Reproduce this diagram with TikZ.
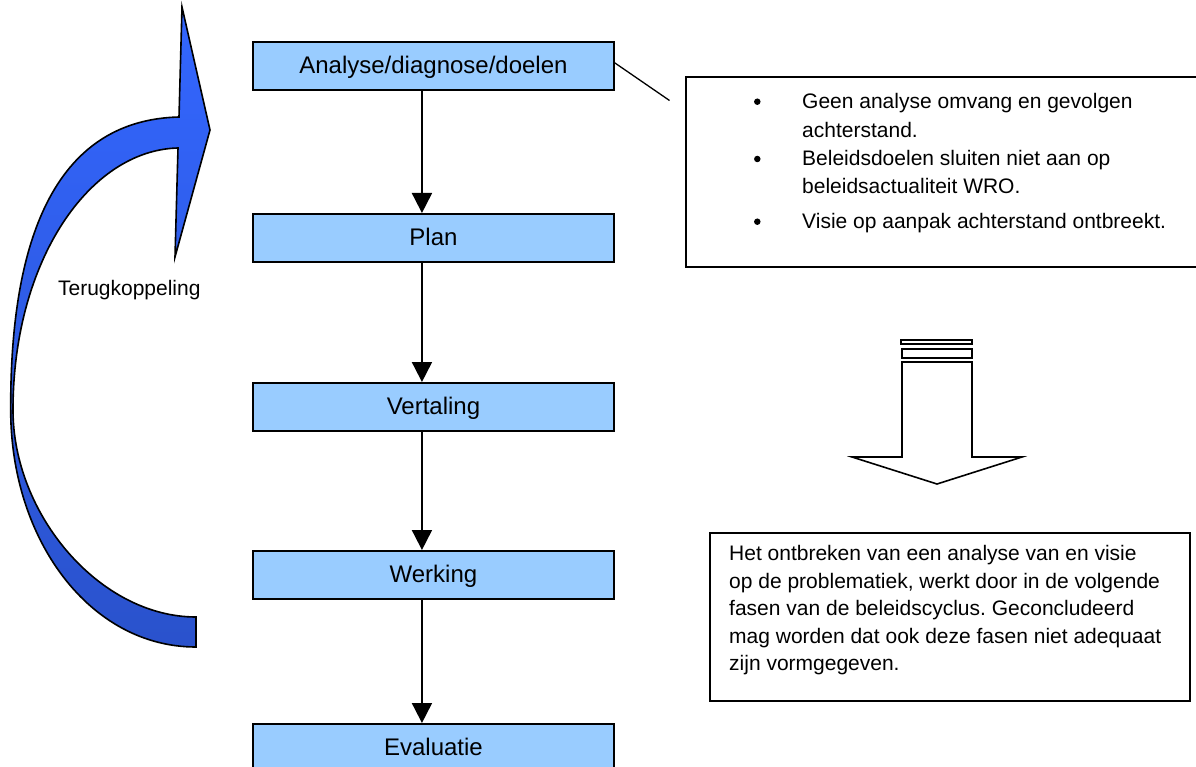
\documentclass[tikz,border=0pt]{standalone}
\usepackage{fontspec}
\setmainfont{Liberation Sans}
\usetikzlibrary{arrows.meta}
\definecolor{stagefill}{HTML}{99CCFF}
\definecolor{loopblue}{HTML}{3366FF}
\definecolor{loopdark}{HTML}{2A52CC}
\frenchspacing

\begin{document}
\begin{tikzpicture}[x=1pt,y=-1pt,
  stage/.style={draw, line width=1.9pt, fill=stagefill, minimum width=361pt,
    minimum height=48pt, inner sep=0pt, anchor=north west,
    text depth=2pt, font=\fontsize{24}{28}\selectfont},
  flow/.style={line width=1.9pt, -{Triangle[width=20pt,length=20pt]}},
  panel/.style={draw, line width=1.8pt, inner sep=0pt, anchor=north west},
  txt/.style={inner sep=0pt, anchor=base west, font=\fontsize{21}{25}\selectfont},
  dot/.style={circle, fill=black, inner sep=0pt, minimum size=6.5pt},
  hollow/.style={draw, line width=1.6pt, fill=white, line join=miter}
]
\clip (0,0) rectangle (1196,767);
\fill[white] (0,0) rectangle (1196,767);

% policy cycle stages
\node[stage] (ana) at (252,41)  {Analyse/diagnose/doelen};
\node[stage] (plan) at (252,213) {Plan};
\node[stage] (vert) at (252,382) {Vertaling};
\node[stage] (werk) at (252,550) {Werking};
\node[stage] (eval) at (252,723) {Evaluatie};

\draw[flow] ([xshift=-11.5pt]ana.south)  -- ([xshift=-11.5pt]plan.north);
\draw[flow] ([xshift=-11.5pt]plan.south) -- ([xshift=-11.5pt]vert.north);
\draw[flow] ([xshift=-11.5pt]vert.south) -- ([xshift=-11.5pt]werk.north);
\draw[flow] ([xshift=-11.5pt]werk.south) -- ([xshift=-11.5pt]eval.north);

% feedback loop arrow
\draw[line width=1.6pt, line join=miter, top color=loopblue, bottom color=loopdark]
  (196,647) .. controls (90,647) and (10.7,540) .. (10.7,410)
  .. controls (10,230) and (60,120) .. (179,117)
  -- (182,7) -- (210,130) -- (175,257) -- (178,148)
  .. controls (90,150) and (13,260) .. (13,410)
  .. controls (13,515) and (100,617) .. (196,617) -- cycle;
\node[font=\fontsize{21}{25}\selectfont, inner sep=0pt] (fb) at (129.3,290) {Terugkoppeling};

% findings callout
\node[panel, minimum width=520pt, minimum height=190pt] (note) at (685,76) {};
\coordinate (noteend) at (669.5,100.5);
\draw[line width=1.3pt] ([yshift=3pt]ana.east) -- (noteend);

\node[dot] (d1) at (757.3,101.7) {};
\node[dot] (d2) at (757.3,159) {};
\node[dot] (d3) at (757.3,221.7) {};
\node[txt] (l1) at (802,109)   {Geen analyse omvang en gevolgen};
\node[txt] (l2) at (802,138)   {achterstand.};
\node[txt] (l3) at (802,166)   {Beleidsdoelen sluiten niet aan op};
\node[txt] (l4) at (802,194)   {beleidsactualiteit WRO.};
\node[txt] (l5) at (802,229)   {Visie op aanpak achterstand ontbreekt.};

% hollow block arrow with stripes
\draw[hollow] (901,340) rectangle (972,344);
\draw[hollow] (902,349) rectangle (972,358);
\draw[hollow] (902,362) -- (972,362) -- (972,457) -- (1022,457) -- (937,484)
  -- (852,457) -- (902,457) -- cycle;

% conclusion
\node[panel, minimum width=480pt, minimum height=168pt] (concl) at (709,532) {};
\node[txt] (c1) at (729,560) {Het ontbreken van een analyse van en visie};
\node[txt] (c2) at (729,588) {op de problematiek, werkt door in de volgende};
\node[txt] (c3) at (729,615) {fasen van de beleidscyclus. Geconcludeerd};
\node[txt] (c4) at (729,643) {mag worden dat ook deze fasen niet adequaat};
\node[txt] (c5) at (729,670) {zijn vormgegeven.};
\end{tikzpicture}
\end{document}
